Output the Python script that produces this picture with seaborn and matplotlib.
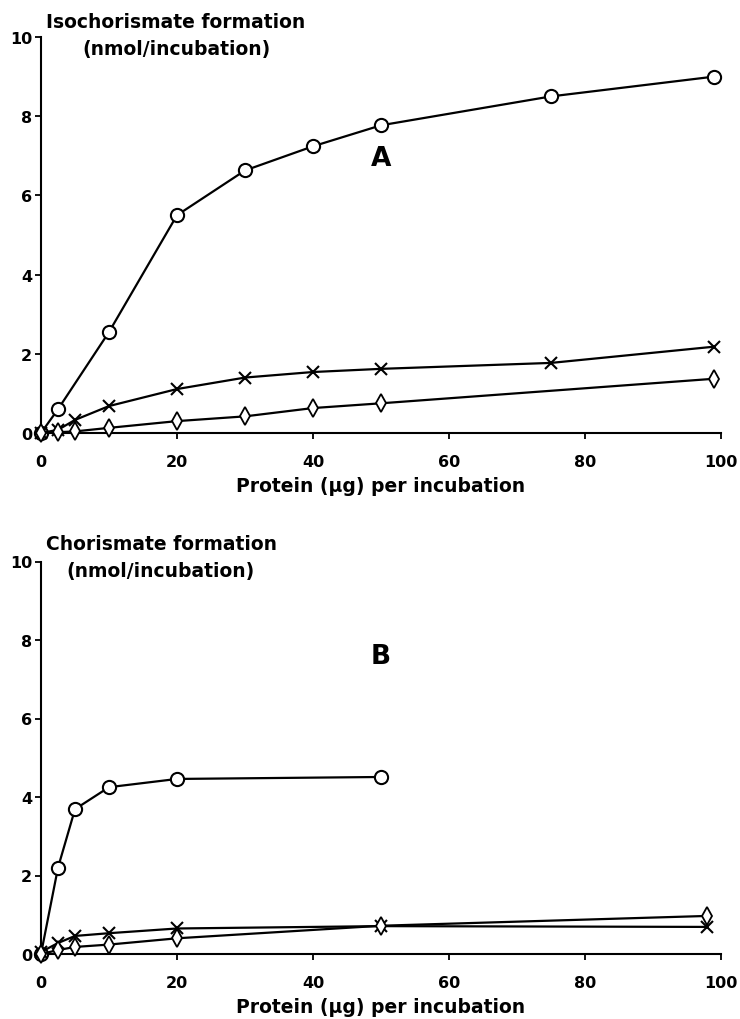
import numpy as np
import pandas as pd
import matplotlib
matplotlib.use('Agg')
import matplotlib.pyplot as plt
import seaborn as sns

sns.set_theme(style='ticks')
plt.rcParams['font.family'] = ['DejaVu Sans']
plt.rcParams['font.weight'] = 'bold'
plt.rcParams['text.color'] = 'black'
plt.rcParams['axes.labelcolor'] = 'black'
plt.rcParams['xtick.color'] = 'black'
plt.rcParams['ytick.color'] = 'black'

# ---- Panel A: isochorismate formation ----
a_circle_x = [0, 2.5, 10, 20, 30, 40, 50, 75, 99]
a_circle_y = [0, 0.6, 2.55, 5.5, 6.63, 7.24, 7.77, 8.5, 9.0]
a_cross_x = [0, 2.5, 5, 10, 20, 30, 40, 50, 75, 99]
a_cross_y = [0, 0.08, 0.33, 0.68, 1.11, 1.4, 1.54, 1.62, 1.77, 2.18]
a_diam_x = [0, 2.5, 5, 10, 20, 30, 40, 50, 99]
a_diam_y = [0, 0.02, 0.04, 0.13, 0.3, 0.42, 0.63, 0.75, 1.37]

# ---- Panel B: chorismate formation ----
b_circle_x = [0, 2.5, 5, 10, 20, 50]
b_circle_y = [0, 2.2, 3.69, 4.25, 4.46, 4.51]
b_cross_x = [0, 2.5, 5, 10, 20, 50, 98]
b_cross_y = [0.05, 0.28, 0.46, 0.53, 0.65, 0.71, 0.69]
b_diam_x = [0, 2.5, 5, 10, 20, 50, 98]
b_diam_y = [0, 0.1, 0.18, 0.24, 0.4, 0.72, 0.97]

x_ticks = [0, 20, 40, 60, 80, 100]
y_ticks = [0, 2, 4, 6, 8, 10]
x_label = 'Protein (µg) per incubation'
ylab_a = ['Isochorismate formation', '(nmol/incubation)']
ylab_b = ['Chorismate formation', '(nmol/incubation)']

fig = plt.figure(figsize=(7.4, 10.2), dpi=100)
ax_a = fig.add_axes([41/740, 1-434/1020, 680/740, 396/1020])
ax_b = fig.add_axes([41/740, 1-955/1020, 680/740, 392.5/1020])

styles = {
    'circle': dict(marker='o', markersize=9.5, markerfacecolor='white',
                   markeredgecolor='black', markeredgewidth=1.5),
    'cross': dict(marker='x', markersize=9, markeredgecolor='black',
                  markeredgewidth=1.5),
    'diam': dict(marker='d', markersize=9, markerfacecolor='white',
                 markeredgecolor='black', markeredgewidth=1.3),
}

def draw(ax, series, letter, letter_xy, ylab, ylab_xc, ylab_y):
    for key, xs, ys in series:
        df = pd.DataFrame({'x': xs, 'y': ys})
        sns.lineplot(data=df, x='x', y='y', ax=ax, color='black', lw=1.6,
                     clip_on=False, zorder=3, **styles[key])
    ax.set_xlim(0, 100)
    ax.set_ylim(0, 10)
    ax.set_xticks(x_ticks)
    ax.set_yticks(y_ticks)
    ax.tick_params(axis='both', direction='out', length=4.5, width=1.3,
                   labelsize=11.5, colors='black')
    ax.tick_params(axis='x', pad=10.5)
    ax.tick_params(axis='y', pad=2)
    for lab in ax.get_xticklabels() + ax.get_yticklabels():
        lab.set_fontweight('bold')
    ax.set_xlabel(x_label, fontsize=13.5, fontweight='bold', labelpad=5)
    ax.set_ylabel('')
    for s in ['top', 'right']:
        ax.spines[s].set_visible(False)
    for s in ['left', 'bottom']:
        ax.spines[s].set_linewidth(1.5)
        ax.spines[s].set_color('black')
    ax.text(letter_xy[0], letter_xy[1], letter, fontsize=19, fontweight='bold',
            ha='center', va='center')
    fig.text(ylab_xc/740, 1-ylab_y[0]/1020, ylab[0], fontsize=13.5,
             fontweight='bold', ha='center', va='center')
    fig.text(ylab_xc/740, 1-ylab_y[1]/1020, ylab[1], fontsize=13.5,
             fontweight='bold', ha='center', va='center')

draw(ax_a, [('circle', a_circle_x, a_circle_y),
            ('cross', a_cross_x, a_cross_y),
            ('diam', a_diam_x, a_diam_y)],
     'A', (50, 6.95), ylab_a, 176, (22, 50))
draw(ax_b, [('circle', b_circle_x, b_circle_y),
            ('cross', b_cross_x, b_cross_y),
            ('diam', b_diam_x, b_diam_y)],
     'B', (50, 7.6), ylab_b, 161, (545, 572))

fig.savefig('out.png', dpi=100, facecolor='white')
